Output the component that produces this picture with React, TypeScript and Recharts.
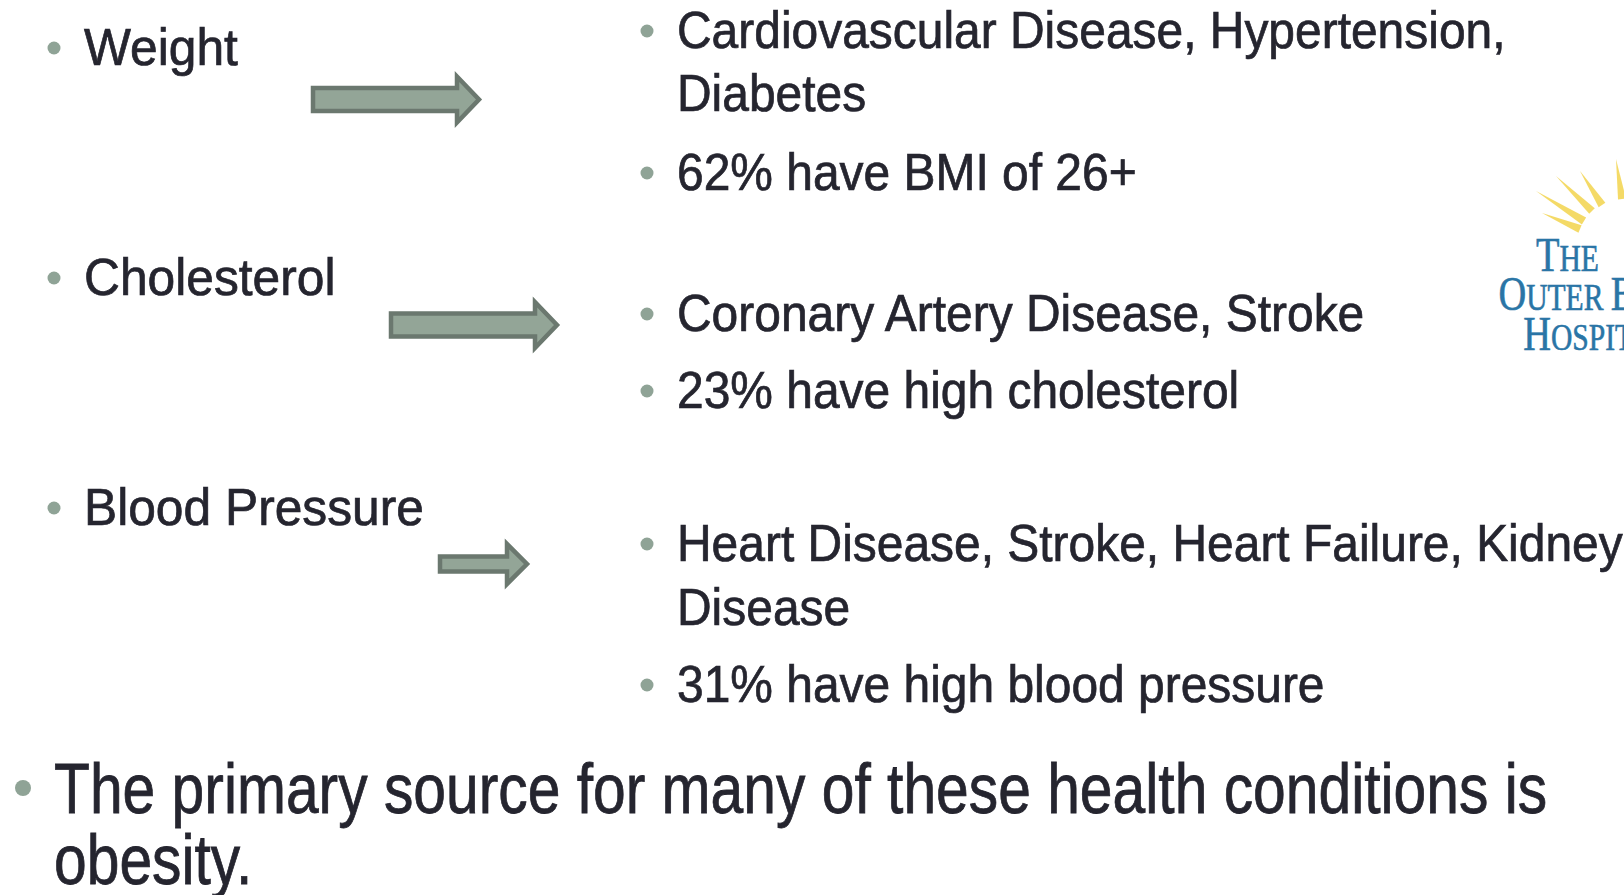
import React from 'react';
import { ScatterChart, Scatter, XAxis, YAxis } from 'recharts';

const W = 1624;
const H = 895;

// ---- content ----
const causes = ['Weight', 'Cholesterol', 'Blood Pressure'];
const causeBaselines = [65, 295, 525];

const effectLines = [
  'Cardiovascular Disease, Hypertension,',
  'Diabetes',
  '62% have BMI of 26+',
  'Coronary Artery Disease, Stroke',
  '23% have high cholesterol',
  'Heart Disease, Stroke, Heart Failure, Kidney',
  'Disease',
  '31% have high blood pressure',
];
const effectBaselines = [48, 111, 190, 331, 408, 561, 625, 702];
const effectBullets = [true, false, true, true, true, true, false, true];

const conclusionLines = ['The primary source for many of these health conditions is', 'obesity.'];
const conclusionBaselines = [813, 884];
const conclusionBullets = [true, false];

const arrowStarts = [313, 391, 440];
const arrowCenters = [99.5, 325, 564];
const arrowKinds = ['long', 'long', 'short'];

const logoAnchor = [{ x: 1536, y: 271 }];

// ---- styles ----
const TEXT = '#25252F';
const BULLET = '#8FA396';
const ARROW_EDGE = '#6B786F';
const ARROW_FILL = '#93A597';
const LOGO_BLUE = '#2A75A6';
const FONT = '"Liberation Sans", Arial, sans-serif';

const CAUSE_X = 84;
const EFFECT_X = 677;
const CONCL_X = 54;

const causeData = causes.map((label, i) => ({ x: CAUSE_X, y: causeBaselines[i], label, bullet: true, sx: 0.975 }));
const effectData = effectLines.map((label, i) => ({ x: EFFECT_X, y: effectBaselines[i], label, bullet: effectBullets[i], sx: 0.94 }));
const conclData = conclusionLines.map((label, i) => ({ x: CONCL_X, y: conclusionBaselines[i], label, bullet: conclusionBullets[i] }));
const arrowData = arrowStarts.map((x, i) => ({ x, y: arrowCenters[i], kind: arrowKinds[i] }));

const SmallText = (props: any) => {
  const { cx, cy, payload } = props;
  return (
    <g>
      {payload.bullet && <circle cx={cx - 30} cy={cy - 17} r={6.5} fill={BULLET} />}
      <text
        x={0}
        y={0}
        transform={`translate(${cx},${cy}) scale(${payload.sx},1)`}
        fontFamily={FONT}
        fontSize={51}
        fill={TEXT}
        stroke={TEXT}
        strokeWidth={0.7}
      >
        {payload.label}
      </text>
    </g>
  );
};

const BigText = (props: any) => {
  const { cx, cy, payload } = props;
  return (
    <g>
      {payload.bullet && <circle cx={cx - 31} cy={cy - 25} r={8} fill={BULLET} />}
      <text
        x={0}
        y={0}
        transform={`translate(${cx},${cy}) scale(0.84,1)`}
        fontFamily={FONT}
        fontSize={70}
        fill={TEXT}
        stroke={TEXT}
        strokeWidth={0.8}
      >
        {payload.label}
      </text>
    </g>
  );
};

const ArrowShape = (props: any) => {
  const { cx, cy, payload } = props;
  const long = payload.kind === 'long';
  const len = long ? 166 : 87;
  const headLen = long ? 22 : 20;
  const headHalf = long ? 23 : 20;
  const shaftHalf = long ? 11.5 : 7.5;
  const x0 = cx;
  const xb = cx + len - headLen;
  const xt = cx + len;
  const pts = [
    [x0, cy - shaftHalf],
    [xb, cy - shaftHalf],
    [xb, cy - headHalf],
    [xt, cy],
    [xb, cy + headHalf],
    [xb, cy + shaftHalf],
    [x0, cy + shaftHalf],
  ]
    .map((p) => p.join(','))
    .join(' ');
  return <polygon points={pts} fill={ARROW_FILL} stroke={ARROW_EDGE} strokeWidth={4.5} strokeLinejoin="miter" />;
};

const rays = [
  [0, -80, 48, -50],
  [6, -58, 44, -42],
  [20, -95, 56, -60],
  [44, -100, 66, -66],
  [80, -112, 86, -72],
];

const LogoShape = (props: any) => {
  const { cx, cy } = props;
  return (
    <g>
      {rays.map((r, i) => {
        const [x1, y1, x2, y2] = r;
        const dx = x2 - x1;
        const dy = y2 - y1;
        const l = Math.hypot(dx, dy);
        const nx = (-dy / l) * 4;
        const ny = (dx / l) * 4;
        const pts = [
          [cx + x1, cy + y1],
          [cx + x2 + nx, cy + y2 + ny],
          [cx + x2 - nx, cy + y2 - ny],
        ]
          .map((p) => p.join(','))
          .join(' ');
        return <polygon key={i} points={pts} fill="#F2D34C" opacity={0.85} />;
      })}
      <text
        transform={`translate(${cx},${cy}) scale(0.8,1)`}
        fontFamily='"Liberation Serif", "DejaVu Serif", serif'
        fill={LOGO_BLUE}
        stroke={LOGO_BLUE}
        strokeWidth={0.6}
      >
        <tspan x={0} y={0} fontSize={48}>T</tspan>
        <tspan fontSize={37}>HE</tspan>
        <tspan x={-47} y={39} fontSize={48}>O</tspan>
        <tspan fontSize={37}>UTER </tspan>
        <tspan fontSize={48}>B</tspan>
        <tspan fontSize={37}>ANKS</tspan>
        <tspan x={-16} y={79} fontSize={48}>H</tspan>
        <tspan fontSize={37}>OSPITAL</tspan>
      </text>
    </g>
  );
};

export default function App() {
  return (
    <div style={{ position: 'absolute', left: 0, top: 0, width: W, height: H, overflow: 'hidden', background: '#fff' }}>
      <ScatterChart width={W} height={H} margin={{ top: 0, right: 0, bottom: 0, left: 0 }}>
        <XAxis type="number" dataKey="x" domain={[0, W]} hide allowDataOverflow />
        <YAxis type="number" dataKey="y" domain={[0, H]} reversed hide allowDataOverflow />
        <Scatter data={logoAnchor} shape={LogoShape} isAnimationActive={false} />
        <Scatter data={arrowData} shape={ArrowShape} isAnimationActive={false} />
        <Scatter data={causeData} shape={SmallText} isAnimationActive={false} />
        <Scatter data={effectData} shape={SmallText} isAnimationActive={false} />
        <Scatter data={conclData} shape={BigText} isAnimationActive={false} />
      </ScatterChart>
    </div>
  );
}
